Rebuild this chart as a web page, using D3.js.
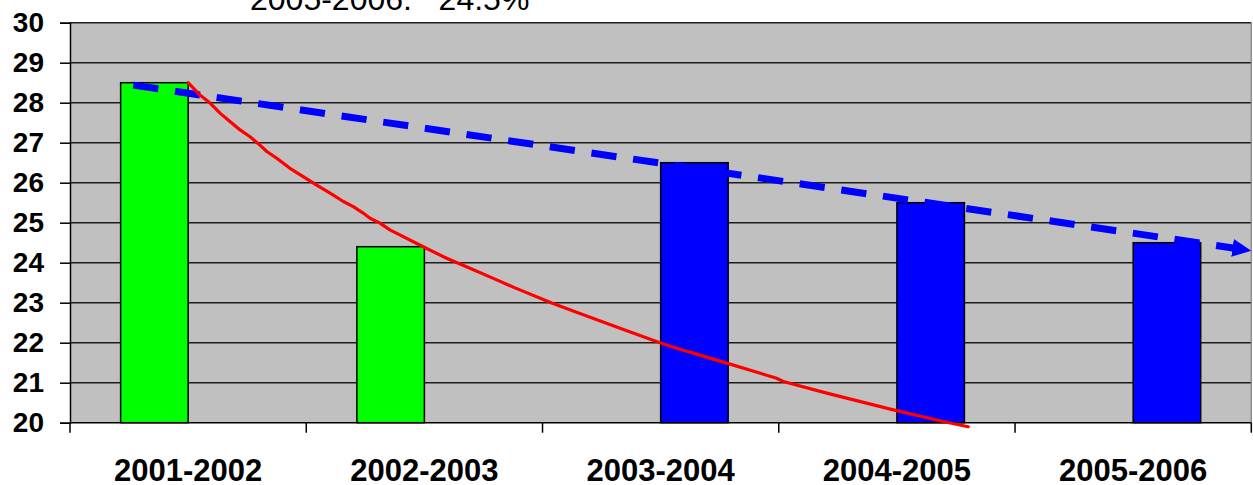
<!DOCTYPE html>
<html>
<head>
<meta charset="utf-8">
<script src="https://cdn.jsdelivr.net/npm/d3@7"></script>
<style>
  html, body { margin: 0; padding: 0; background: #ffffff; }
  svg { display: block; }
</style>
</head>
<body>
<script>
// Seasons on the category axis
const categories = ["2001-2002", "2002-2003", "2003-2004", "2004-2005", "2005-2006"];
// Two bar series: earlier seasons (green) and later seasons (blue)
const seriesNames = ["earlier", "later"];
const earlierValues = [28.5, 24.4, null, null, null];
const laterValues = [null, null, 26.5, 25.5, 24.5];
// Value axis ticks
const yTicks = [20, 21, 22, 23, 24, 25, 26, 27, 28, 29, 30];
// Heading line above the plot
const headingText = "2005-2006:   24.5%";
// Hand-drawn red decline curve: [category position, value]
const redCurve = [
  [0.500, 28.50], [0.550, 28.19], [0.593, 27.99], [0.635, 27.74], [0.677, 27.53],
  [0.720, 27.32], [0.762, 27.15], [0.804, 26.94], [0.833, 26.78], [0.875, 26.61],
  [0.931, 26.36], [0.987, 26.15], [1.044, 25.94], [1.101, 25.74], [1.157, 25.53],
  [1.199, 25.40], [1.241, 25.24], [1.270, 25.11], [1.312, 24.99], [1.354, 24.82],
  [1.495, 24.40], [1.594, 24.11], [1.693, 23.86], [1.806, 23.57], [1.876, 23.39],
  [2.039, 22.99], [2.187, 22.67], [2.328, 22.36], [2.497, 22.00], [2.568, 21.86],
  [2.667, 21.69], [2.780, 21.49], [2.991, 21.11], [3.019, 21.03], [3.203, 20.74],
  [3.485, 20.32], [3.696, 20.03], [3.802, 19.90]
];
// Dashed blue trend arrow: [category position, value]
const blueTrend = [[0.268, 28.44], [5.0, 24.30]];

const W = 1253, H = 485;
const plot = { left: 70, right: 1251.3, top: 22.7, bottom: 422.7 };

const svg = d3.select("body").append("svg")
  .attr("width", W).attr("height", H);

const x0 = d3.scaleBand().domain(categories).range([plot.left, plot.right]);
const x1 = d3.scaleBand().domain(seriesNames).range([0, x0.bandwidth()])
  .paddingInner(0).paddingOuter(0.75);
const pos = d3.scaleLinear().domain([0, categories.length]).range([plot.left, plot.right]);
const y = d3.scaleLinear().domain([20, 30]).range([plot.bottom, plot.top]);

// Plot background
svg.append("rect")
  .attr("x", plot.left).attr("y", plot.top)
  .attr("width", plot.right - plot.left).attr("height", plot.bottom - plot.top)
  .attr("fill", "#c0c0c0");

// Gridlines
svg.append("g").selectAll("line").data(yTicks.filter(t => t > 20)).join("line")
  .attr("x1", plot.left).attr("x2", plot.right)
  .attr("y1", d => y(d)).attr("y2", d => y(d))
  .attr("stroke", "#1e1e1e").attr("stroke-width", 1.4);

// Plot border (right)
svg.append("line")
  .attr("x1", plot.right).attr("x2", plot.right)
  .attr("y1", plot.top).attr("y2", plot.bottom)
  .attr("stroke", "#808080").attr("stroke-width", 1.2);

// Bars
const barData = [];
categories.forEach((c, i) => {
  if (earlierValues[i] != null) barData.push({ cat: c, s: "earlier", v: earlierValues[i], fill: "#00ff00" });
  if (laterValues[i] != null) barData.push({ cat: c, s: "later", v: laterValues[i], fill: "#0000ff" });
});
svg.append("g").selectAll("rect").data(barData).join("rect")
  .attr("x", d => x0(d.cat) + x1(d.s))
  .attr("y", d => y(d.v))
  .attr("width", x1.bandwidth())
  .attr("height", d => y(20) - y(d.v))
  .attr("fill", d => d.fill)
  .attr("stroke", "#000").attr("stroke-width", 1.5);

// Y axis
const yAxis = d3.axisLeft(y).tickValues(yTicks).tickSize(10).tickPadding(16).tickFormat(d3.format("d"));
const gy = svg.append("g").attr("transform", `translate(${plot.left},0)`).call(yAxis);
gy.select(".domain").attr("stroke", "#000").attr("stroke-width", 1.5);
gy.selectAll(".tick line").attr("stroke", "#000").attr("stroke-width", 1.5);
gy.selectAll(".tick text")
  .attr("font-family", "'Liberation Sans', Arial, sans-serif")
  .attr("font-size", 28).attr("font-weight", "bold").attr("fill", "#000");

// X axis: ticks at category boundaries, labels centered
const boundaries = d3.range(categories.length + 1);
const gx = svg.append("g");
gx.append("line")
  .attr("x1", plot.left).attr("x2", plot.right)
  .attr("y1", plot.bottom).attr("y2", plot.bottom)
  .attr("stroke", "#000").attr("stroke-width", 1.5);
gx.selectAll("line.tk").data(boundaries).join("line").attr("class", "tk")
  .attr("x1", d => pos(d)).attr("x2", d => pos(d))
  .attr("y1", plot.bottom).attr("y2", plot.bottom + 10)
  .attr("stroke", "#000").attr("stroke-width", 1.5);
gx.selectAll("text").data(categories).join("text")
  .attr("x", d => x0(d) + x0.bandwidth() / 2)
  .attr("y", 481)
  .attr("text-anchor", "middle")
  .attr("font-family", "'Liberation Sans', Arial, sans-serif")
  .attr("font-size", 31).attr("font-weight", "bold").attr("fill", "#000")
  .text(d => d);

// Dashed blue trend arrow
const defs = svg.append("defs");
defs.append("marker")
  .attr("id", "arrowhead")
  .attr("markerUnits", "userSpaceOnUse")
  .attr("viewBox", "0 -10 20 20")
  .attr("markerWidth", 20).attr("markerHeight", 20)
  .attr("refX", 19).attr("refY", 0)
  .attr("orient", "auto")
  .append("path").attr("d", "M0,-9L19,0L0,9Z").attr("fill", "#0000ff");

const line = d3.line().x(d => pos(d[0])).y(d => y(d[1]));

svg.append("path")
  .attr("d", line(blueTrend))
  .attr("fill", "none")
  .attr("stroke", "#0000ff")
  .attr("stroke-width", 7)
  .attr("stroke-dasharray", "25.3 16.8")
  .attr("marker-end", "url(#arrowhead)");

// Red decline curve
svg.append("path")
  .attr("d", line.curve(d3.curveLinear)(redCurve))
  .attr("fill", "none")
  .attr("stroke", "#ff0000")
  .attr("stroke-width", 3.2)
  .attr("stroke-linejoin", "round")
  .attr("stroke-linecap", "round");

// Heading line (partly above the visible area)
svg.append("text")
  .attr("x", 250).attr("y", 10)
  .attr("font-family", "'Liberation Sans', Arial, sans-serif")
  .attr("font-size", 32).attr("fill", "#000")
  .style("white-space", "pre")
  .text(headingText);
</script>
</body>
</html>
